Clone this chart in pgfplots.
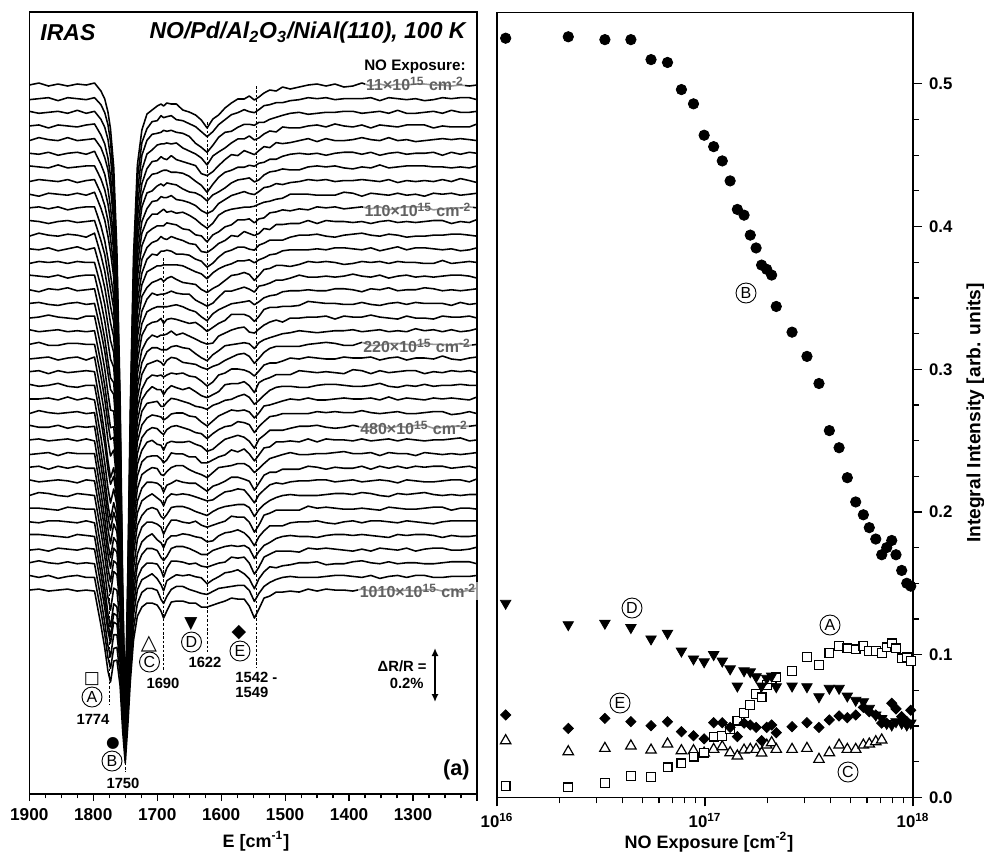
\documentclass[border=0pt]{standalone}
\usepackage{fontspec}
\setmainfont{Liberation Sans}
\newfontfamily\dejavu{DejaVu Sans}
\usepackage{pgfplots}
\usepackage{pgfplotstable}
\pgfplotsset{compat=1.18}
\usetikzlibrary{arrows.meta}

% stacked IR spectra: displacement (px, downward) of each trace from its own baseline
\pgfplotstableread{
E t1 t2 t3 t4 t5 t6 t7 t8 t9 t10 t11 t12 t13 t14 t15 t16 t17 t18 t19 t20 t21 t22 t23 t24 t25 t26 t27 t28 t29 t30 t31 t32 t33 t34 t35 t36 t37 t38
1900 0 1 -1 0 1 0 -1 1 0 0 -1 1 0 1 -1 0 0 1 -1 0 1 0 -1 0 1 -1 0 1 0 -1 1 0 0 -1 1 0 -1 0
1885 -2 0 1 -1 -2 1 0 -1 2 -1 0 -2 1 -1 0 2 -1 0 1 -2 0 -1 1 0 -2 1 -1 0 -1 1 -2 0 1 -1 0 -2 1 -1
1870 1 -1 0 2 0 -1 1 0 -1 1 2 0 -1 0 1 -1 1 -2 0 1 -1 2 0 -1 0 1 1 -1 2 0 -1 1 -1 0 2 0 -1 1
1855 -1 2 -1 -1 1 2 -2 1 0 -1 0 1 2 -1 -1 0 2 0 -1 1 2 -1 -2 1 1 -1 0 2 -1 -1 1 2 -1 1 -1 1 2 0
1840 1 -1 1 0 -2 0 1 -1 1 2 -1 -1 0 1 2 -2 0 1 1 -1 0 1 1 -2 0 2 -1 -1 1 0 2 -1 0 2 0 -1 0 -1
1825 -1 0 -2 1 1 -1 0 2 -1 0 1 0 -2 -1 0 1 -1 2 0 -1 -1 0 2 1 -1 0 1 0 -1 2 -1 0 1 -1 1 1 -1 1
1811 0 1 1 -1 0 1 -1 0 1 -1 0 2 1 0 -1 0 1 -1 1 0 2 -1 0 -1 1 1 -1 0 1 -1 0 1 -1 0 -1 0 1 0
1798 -2 -1 -1 -2 -1 -2 -1 -1 -2 -1 -1 -2 -1 0 -1 -1 0 -1 0 0 -1 0 0 1 0 0 1 0 1 0 1 1 1 1 0 1 1 1
1788 6 6 7 9 8 11 12 13 14 18 19 20 22 24 26 28 28 30 32 32 34 37 35 38 40 39 39 39 38 38 37 39 40 38 36 36 35 35
1782 14 14 15 18 18 21 23 25 26 33 33 36 39 42 45 49 48 52 55 55 57 63 59 64 66 64 64 65 63 63 62 64 66 63 59 60 58 58
1777 27 26 27 32 30 36 37 40 42 51 52 55 58 62 66 71 70 76 79 79 82 89 84 89 92 90 89 90 87 87 86 89 92 88 82 83 81 81
1773 44 43 45 50 48 54 54 58 58 67 68 71 74 78 83 88 86 93 97 95 98 106 99 104 107 104 104 104 101 101 99 102 105 101 94 94 92 92
1768 82 81 82 85 82 85 84 85 83 88 87 87 88 90 91 93 91 94 96 93 92 96 91 90 90 86 84 84 81 80 77 80 82 78 73 72 72 71
1763 166 167 167 168 163 164 159 158 151 152 149 146 141 141 138 138 134 135 134 128 124 121 114 106 103 97 92 89 85 83 80 82 85 80 75 72 71 70
1758 313 314 313 313 305 304 294 288 276 272 267 259 248 246 238 234 227 226 223 211 202 192 181 163 156 144 133 128 123 118 112 115 119 112 104 100 98 96
1754 498 499 497 496 484 482 465 455 435 428 419 406 388 384 372 363 353 349 345 326 309 294 276 245 235 216 200 192 182 175 166 170 174 165 154 146 144 141
1750 620 623 620 620 603 601 579 568 543 533 521 505 482 478 462 452 437 434 429 404 383 364 341 303 289 266 246 235 225 215 202 208 214 202 189 179 177 173
1746 488 490 488 488 474 473 455 447 427 420 411 397 379 376 363 355 344 340 336 317 301 286 269 239 227 208 193 185 177 169 160 164 167 159 149 141 139 136
1742 320 321 320 319 311 310 298 293 280 275 269 260 249 247 238 233 226 224 221 208 198 188 177 158 151 138 128 123 118 113 106 109 112 106 99 94 93 91
1737 170 170 170 169 165 164 158 155 149 146 143 139 133 132 127 125 121 120 118 112 106 101 96 86 82 76 71 68 65 62 59 60 61 58 55 52 52 50
1731 80 80 80 79 78 77 75 73 70 69 68 66 63 63 61 60 58 57 56 54 51 49 47 43 41 38 36 35 34 32 31 31 32 30 29 27 27 26
1724 45 44 43 44 44 42 40 41 39 38 38 38 36 34 35 34 32 33 32 30 31 28 26 26 25 24 22 21 21 20 21 19 20 19 19 17 16 17
1716 29 30 28 28 29 27 26 28 26 25 26 24 23 25 23 22 22 23 21 20 21 20 18 19 18 16 17 17 15 16 15 14 15 13 14 14 12 13
1708 25 23 22 24 22 21 24 21 20 21 21 19 20 20 17 19 19 18 17 18 17 15 17 16 15 14 16 14 15 13 13 14 12 13 14 11 12 13
1700 21 22 21 19 21 20 19 20 20 18 19 20 17 18 19 17 18 20 17 16 18 18 16 17 16 18 16 15 16 17 15 16 18 15 15 16 14 15
1694 19 17 20 18 17 18 17 16 17 18 15 16 17 16 18 17 15 18 19 18 17 18 21 18 20 19 19 21 19 20 22 19 21 22 21 22 23 21
1690 21 19 18 18 19 17 19 17 15 18 17 16 16 19 18 17 20 18 19 21 19 23 21 21 22 24 23 22 25 25 24 26 26 25 28 28 27 28
1685 18 18 19 17 20 17 16 17 18 15 18 15 16 16 17 17 16 17 19 16 17 18 17 19 17 17 20 18 18 17 20 19 18 21 19 18 20 21
1678 19 17 18 18 16 19 17 15 17 16 15 16 16 14 15 16 15 14 16 13 15 14 13 15 14 15 13 14 16 13 13 12 14 13 12 15 13 12
1670 19 21 20 17 20 19 18 19 19 17 17 19 16 17 17 15 16 18 15 14 16 16 14 14 13 16 14 12 13 14 12 12 14 11 12 12 10 11
1660 25 22 21 22 22 20 22 20 18 21 19 19 17 20 18 17 18 16 17 18 15 18 16 14 15 16 14 12 15 13 12 14 12 11 13 13 10 11
1650 27 25 24 25 24 23 25 22 21 22 22 20 20 21 18 20 20 19 18 19 18 16 18 17 17 15 17 16 16 14 14 15 13 13 15 12 13 13
1640 30 28 31 28 26 28 26 25 25 27 23 24 23 22 24 22 19 22 23 20 19 20 21 18 20 18 17 19 16 16 17 13 15 16 14 14 15 13
1631 35 33 35 32 34 32 29 30 30 28 30 26 25 27 27 27 23 25 27 23 23 24 22 23 21 20 23 21 20 18 19 17 16 19 17 15 17 17
1622 43 38 40 39 36 39 34 33 34 34 31 32 30 30 30 31 28 27 30 25 28 26 24 27 26 25 23 24 24 20 21 19 20 19 18 21 18 17
1613 34 33 33 30 32 31 28 30 29 27 27 28 24 26 27 24 24 26 24 22 24 23 20 22 21 23 20 19 19 19 17 17 19 15 16 17 15 15
1604 30 26 25 26 26 24 25 23 21 24 22 22 20 23 21 20 20 19 20 20 17 20 18 17 17 18 17 14 17 15 14 15 14 13 14 14 12 13
1594 23 21 20 22 20 19 21 19 17 19 19 17 17 18 15 17 17 16 15 16 15 13 15 14 14 13 15 13 14 11 12 13 11 11 13 10 11 11
1584 18 16 19 17 15 17 16 15 15 17 14 15 15 13 15 14 11 13 14 13 11 12 14 11 13 11 10 12 10 10 11 8 10 10 8 9 10 8
1574 14 14 15 13 16 14 13 13 14 12 15 12 12 12 13 13 11 11 13 10 11 12 11 12 9 9 12 10 10 8 10 9 8 11 9 7 9 9
1564 14 11 12 13 11 14 12 11 13 12 10 12 12 10 11 12 11 10 12 9 12 10 9 11 10 11 9 10 12 9 10 9 11 10 8 11 9 9
1556 11 13 12 10 13 12 11 13 13 11 12 14 11 12 13 11 13 15 13 12 14 14 12 13 12 15 14 13 14 15 13 14 16 13 14 16 14 16
1548 15 14 13 14 15 13 15 14 12 15 14 15 14 18 16 15 18 16 18 19 18 21 19 19 20 22 21 19 23 22 22 24 24 23 25 26 25 28
1541 12 11 10 12 11 10 13 11 10 11 12 10 11 13 10 12 13 12 12 14 13 11 15 14 14 13 15 15 16 14 15 17 15 16 18 16 17 19
1533 8 7 10 8 7 9 8 7 8 10 7 8 9 7 9 8 6 8 9 8 7 8 10 7 9 9 8 10 8 9 10 7 9 10 8 9 10 8
1524 5 6 7 5 8 6 5 6 7 5 8 5 6 6 7 6 4 5 7 4 5 6 5 6 4 4 7 5 5 4 6 5 4 7 5 4 6 6
1514 6 4 5 6 3 6 4 3 5 4 3 5 5 3 4 5 4 3 5 2 5 3 2 4 3 4 2 3 5 2 3 2 4 3 2 5 3 2
1504 2 4 3 1 4 3 2 4 4 2 3 5 2 3 4 2 3 5 3 2 3 3 1 2 1 4 2 1 2 3 1 2 4 1 2 3 1 2
1492 4 2 1 2 3 1 3 2 0 3 2 2 1 4 2 1 3 1 2 2 0 3 1 0 1 2 1 -1 2 1 0 2 1 0 2 2 0 1
1478 2 1 0 2 1 0 3 1 0 1 2 0 1 2 -1 1 2 1 0 2 1 -1 2 1 1 0 2 1 2 0 1 2 0 1 3 0 1 2
1464 0 -1 2 0 -1 1 0 -1 0 2 -1 0 1 -1 1 0 -2 0 1 0 -1 0 2 -1 1 0 -1 1 -1 0 1 -2 0 1 -1 0 1 -1
1450 -1 0 1 -1 2 0 -1 0 1 -1 2 -1 0 0 1 1 -1 0 2 -1 0 1 0 1 -1 -1 2 0 0 -1 1 0 -1 2 0 -1 1 1
1436 1 -1 0 1 -1 2 0 -1 1 0 -1 1 1 -1 0 1 0 -1 1 -2 1 0 -1 1 0 1 -1 0 2 -1 0 -1 1 0 -1 2 0 -1
1422 -1 1 0 -2 1 0 -1 1 1 -1 0 2 -1 0 1 -1 0 2 0 -1 1 1 -1 0 -1 2 0 -1 0 1 -1 0 2 -1 0 1 -1 0
1408 2 0 -1 0 1 -1 1 0 -2 1 0 0 -1 2 0 -1 1 -1 0 1 -1 2 0 -1 0 1 0 -2 1 0 -1 1 0 -1 1 1 -1 0
1394 1 0 -1 1 0 -1 2 0 -1 0 1 -1 0 1 -2 0 1 0 -1 1 0 -2 1 0 0 -1 1 0 1 -1 0 1 -1 0 2 -1 0 1
1380 -2 0 1 -1 -2 1 0 -1 2 -1 0 -2 1 -1 0 2 -1 0 1 -2 0 -1 1 0 -2 1 -1 0 -1 1 -2 0 1 -1 0 -2 1 -1
1366 1 -1 0 2 0 -1 1 0 -1 1 2 0 -1 0 1 -1 1 -2 0 1 -1 2 0 -1 0 1 1 -1 2 0 -1 1 -1 0 2 0 -1 1
1352 -1 2 -1 -1 1 2 -2 1 0 -1 0 1 2 -1 -1 0 2 0 -1 1 2 -1 -2 1 1 -1 0 2 -1 -1 1 2 -1 1 -1 1 2 0
1338 1 -1 1 0 -2 0 1 -1 1 2 -1 -1 0 1 2 -2 0 1 1 -1 0 1 1 -2 0 2 -1 -1 1 0 2 -1 0 2 0 -1 0 -1
1324 -1 0 -2 1 1 -1 0 2 -1 0 1 0 -2 -1 0 1 -1 2 0 -1 -1 0 2 1 -1 0 1 0 -1 2 -1 0 1 -1 1 1 -1 1
1310 0 1 1 -1 0 1 -1 0 1 -1 0 2 1 0 -1 0 1 -1 1 0 2 -1 0 -1 1 1 -1 0 1 -1 0 1 -1 0 -1 0 1 0
1296 -1 0 1 -1 2 0 -1 1 0 -1 1 1 -1 0 1 0 -1 1 -2 1 0 -1 1 0 1 -1 0 2 -1 0 -1 1 0 -1 2 0 -1 1
1282 -1 2 0 -1 1 0 -1 0 2 -1 0 1 -1 1 0 -2 0 1 0 -1 0 2 -1 1 0 -1 1 -1 0 1 -2 0 1 -1 0 1 -1 0
1268 0 1 -1 2 0 -1 0 1 -1 2 -1 0 0 1 1 -1 0 2 -1 0 1 0 1 -1 -1 2 0 0 -1 1 0 -1 2 0 -1 1 1 -1
1254 0 -1 1 0 -1 2 0 -1 0 1 -1 0 1 -2 0 1 0 -1 1 0 -2 1 0 0 -1 1 0 1 -1 0 1 -1 0 2 -1 0 1 1
1240 1 0 -2 1 0 -1 1 1 -1 0 2 -1 0 1 -1 0 2 0 -1 1 1 -1 0 -1 2 0 -1 0 1 -1 0 2 -1 0 1 -1 0 -1
1226 0 -1 0 1 -1 1 0 -2 1 0 0 -1 2 0 -1 1 -1 0 1 -1 2 0 -1 0 1 0 -2 1 0 -1 1 0 -1 1 1 -1 0 2
1212 1 -1 0 1 0 -1 1 0 0 -1 1 0 1 -1 0 0 1 -1 0 1 0 -1 0 1 -1 0 1 0 -1 1 0 0 -1 1 0 -1 0 0
1200 0 1 -1 -2 1 0 -1 2 -1 0 -2 1 -1 0 2 -1 0 1 -2 0 -1 1 0 -2 1 -1 0 -1 1 -2 0 1 -1 0 -2 1 -1 -2
}\spec

% integral intensities vs NO exposure
\pgfplotstableread{
x A B C D E
1.1e16 0.0079 0.532 0.0397 0.136 0.0577
2.2e16 0.0070 0.533 0.0320 0.121 0.0483
3.3e16 0.0102 0.531 0.0343 0.122 0.0553
4.4e16 0.0149 0.531 0.0360 0.119 0.0530
5.5e16 0.0144 0.517 0.0331 0.111 0.0502
6.6e16 0.0210 0.515 0.0374 0.115 0.0530
7.7e16 0.0238 0.496 0.0327 0.1025 0.0460
8.8e16 0.0285 0.486 0.0327 0.097 0.0432
9.9e16 0.0313 0.464 0.0310 0.095 0.0410
1.1e17 0.0425 0.456 0.0336 0.100 0.0523
1.21e17 0.0430 0.446 0.0355 0.0955 0.0523
1.32e17 0.0480 0.432 0.0313 0.090 0.0490
1.43e17 0.0537 0.412 0.0290 0.078 0.0425
1.54e17 0.0589 0.408 0.0331 0.0887 0.0520
1.65e17 0.0647 0.394 0.0336 0.088 0.0507
1.76e17 0.0724 0.385 0.0336 0.0845 0.0490
1.87e17 0.0700 0.373 0.0310 0.078 0.0397
1.98e17 0.0787 0.370 0.0366 0.0834 0.0490
2.09e17 0.0827 0.366 0.0383 0.085 0.0507
2.2e17 0.0841 0.344 0.0336 0.0775 0.0453
2.62e17 0.0885 0.326 0.0336 0.078 0.0495
3.09e17 0.0985 0.309 0.0343 0.0775 0.0523
3.53e17 0.0927 0.290 0.0266 0.0705 0.0490
3.96e17 0.1013 0.257 0.0313 0.0764 0.0542
4.41e17 0.1060 0.245 0.0366 0.0764 0.0570
4.83e17 0.1044 0.224 0.0336 0.071 0.0558
5.3e17 0.1037 0.207 0.0336 0.068 0.0577
5.77e17 0.1060 0.198 0.0366 0.067 0.0630
6.16e17 0.1025 0.189 0.0374 0.0624 0.0600
6.62e17 0.1025 0.181 0.0390 0.0577 0.0577
7.07e17 0.1013 0.170 0.0402 0.0553 0.0520
7.47e17 0.1051 0.175 nan 0.0518 0.0520
7.9e17 0.1079 0.180 nan 0.0507 0.0659
8.28e17 0.1044 0.170 nan 0.053 0.0620
8.82e17 0.0974 0.159 nan 0.052 0.0565
9.33e17 0.0980 0.150 nan 0.0507 0.0530
9.75e17 0.0955 0.148 nan 0.052 0.0610
}\intens

\tikzset{
  circ/.style={circle, draw, line width=0.45pt, inner sep=0pt, minimum size=10pt, font=\fontsize{8}{9}\selectfont},
  tl/.style={fill=white, fill opacity=0.6, text opacity=1, text=black!62, inner sep=0.8pt, font=\fontsize{8}{9}\selectfont\bfseries},
  pk/.style={font=\fontsize{7.4}{8}\selectfont\bfseries, inner sep=0pt},
  sym/.style={inner sep=0pt},
  dl/.style={line width=0.5pt, dash pattern=on 1.3pt off 0.9pt},
}

\begin{document}
\begin{tikzpicture}
\useasboundingbox (0,0) rectangle (492pt,-426pt);

% ---------- left panel: IRAS spectra ----------
\begin{axis}[
  at={(14.65pt,-397pt)}, anchor=south west,
  width=223.85pt, height=391pt, scale only axis,
  xmin=1200, xmax=1900, x dir=reverse,
  ymin=12, ymax=794, y dir=reverse,
  ytick=\empty,
  xtick={1200,1300,...,1900},
  xticklabels={,1300,1400,1500,1600,1700,1800,1900},
  minor x tick num=3,
  xtick pos=bottom, tick align=outside,
  major tick length=3.6pt, minor tick length=2.2pt,
  axis line style={line width=0.75pt},
  tick style={line width=0.6pt, black},
  ticklabel style={font=\fontsize{8.6}{10}\selectfont\bfseries},
]
\pgfplotsinvokeforeach{1,...,38}{
  \addplot[black, line width=0.78pt, line join=round, no markers]
    table[x=E, y expr={\thisrow{t#1}+85+13.65*(#1-1)}] {\spec};
}
\draw[dl] (axis cs:1774,585) -- (axis cs:1774,705);
\draw[dl] (axis cs:1750,745) -- (axis cs:1750,772);
\draw[dl] (axis cs:1690,258) -- (axis cs:1690,670);
\draw[dl] (axis cs:1622,122) -- (axis cs:1622,652);
\draw[dl] (axis cs:1545,86) -- (axis cs:1545,667);
\end{axis}

% ---------- right panel: integral intensities ----------
\begin{axis}[
  at={(248.5pt,-398.65pt)}, anchor=south west,
  width=208pt, height=392.4pt, scale only axis,
  xmode=log, xmin=1e16, xmax=1e18, ymin=0, ymax=0.55,
  xtick={1e16,1e17,1e18},
  xticklabels={10\textsuperscript{16},10\textsuperscript{17},10\textsuperscript{18}},
  minor xtick={2e16,3e16,4e16,5e16,6e16,7e16,8e16,9e16,2e17,3e17,4e17,5e17,6e17,7e17,8e17,9e17},
  ytick={0,0.1,0.2,0.3,0.4,0.5},
  yticklabels={0.0,0.1,0.2,0.3,0.4,0.5},
  minor y tick num=3,
  ytick pos=right, yticklabel pos=right, xtick pos=bottom,
  tick align=outside,
  major tick length=4.5pt, minor tick length=3pt,
  axis line style={line width=0.75pt},
  tick style={line width=0.6pt, black},
  ticklabel style={font=\fontsize{8.4}{10}\selectfont\bfseries},
]
\addplot[black, only marks, mark=triangle*, mark size=3pt,
  mark options={fill=white, draw=black, line width=0.6pt}] table[x=x, y=C] {\intens};
\addplot[black, only marks, mark=square*, mark size=2.2pt,
  mark options={fill=white, draw=black, line width=0.6pt}] table[x=x, y=A] {\intens};
\addplot[black, only marks, mark=square*, mark size=1.8pt,
  mark options={rotate=45, fill=black}] table[x=x, y=E] {\intens};
\addplot[black, only marks, mark=triangle*, mark size=3pt,
  mark options={rotate=180, fill=black}] table[x=x, y=D] {\intens};
\addplot[black, only marks, mark=*, mark size=2.6pt,
  mark options={fill=black}] table[x=x, y=B] {\intens};
\end{axis}

% ---------- annotations (coordinates in image pixels) ----------
\begin{scope}[x=0.5pt, y=-0.5pt]
  \node[anchor=west, inner sep=0pt, font=\fontsize{11.5}{13}\selectfont\bfseries\itshape] at (40,33) {IRAS};
  \node[anchor=east, inner sep=0pt, font=\fontsize{11.5}{13}\selectfont\bfseries\itshape] at (466,33)
    {NO/Pd/Al\textsubscript{2}O\textsubscript{3}/NiAl(110), 100 K};
  \node[anchor=east, inner sep=0pt, font=\fontsize{7.6}{9}\selectfont\bfseries] at (466,67) {NO Exposure:};
  \node[tl] at (415,84) {11×10\textsuperscript{15} cm\textsuperscript{-2}};
  \node[tl] at (418,210) {110×10\textsuperscript{15} cm\textsuperscript{-2}};
  \node[tl] at (417,346) {220×10\textsuperscript{15} cm\textsuperscript{-2}};
  \node[tl] at (414,428) {480×10\textsuperscript{15} cm\textsuperscript{-2}};
  \node[tl] at (418,591) {1010×10\textsuperscript{15} cm\textsuperscript{-2}};

  \node[sym, font=\dejavu\fontsize{8.5}{8.5}\selectfont] at (92,679) {□};
  \node[circ] at (92,697) {A};
  \node[pk] at (93,719) {1774};
  \node[sym, font=\dejavu\fontsize{7.8}{7.8}\selectfont] at (113,743) {●};
  \node[circ] at (112,761) {B};
  \node[pk] at (123,783) {1750};
  \node[sym, font=\dejavu\fontsize{10.5}{10.5}\selectfont] at (149,644) {△};
  \node[circ] at (149.5,662) {C};
  \node[pk] at (163,683) {1690};
  \node[sym, font=\dejavu\fontsize{8.5}{8.5}\selectfont] at (191,624) {▼};
  \node[circ] at (191.5,642) {D};
  \node[pk] at (205,662) {1622};
  \node[sym, font=\dejavu\fontsize{9.5}{9.5}\selectfont] at (239,633) {◆};
  \node[circ] at (240,651) {E};
  \node[pk, anchor=west] at (235,677) {1542 -};
  \node[pk, anchor=west] at (235,692) {1549};

  \node[pk, anchor=east] at (427,666) {ΔR/R =};
  \node[pk, anchor=east] at (424,683) {0.2\%};
  \draw[{Latex[length=4pt,width=3.6pt]}-{Latex[length=4pt,width=3.6pt]}, line width=0.8pt] (435,648) -- (435,702);
  \node[anchor=east, inner sep=0pt, font=\fontsize{10.8}{12}\selectfont\bfseries] at (470,770) {(a)};

  \node[font=\fontsize{9}{10}\selectfont\bfseries] at (256,841) {E [cm\textsuperscript{-1}]};
  \node[font=\fontsize{9}{10}\selectfont\bfseries] at (709,842) {NO Exposure [cm\textsuperscript{-2}]};
  \node[rotate=90, anchor=north, inner sep=0pt, font=\fontsize{9.6}{11}\selectfont\bfseries] at (966,413)
    {Integral Intensity [arb. units]};

  \node[circ, minimum size=10pt] at (746,293) {B};
  \node[circ, minimum size=10pt] at (632,608) {D};
  \node[circ, minimum size=10pt] at (830,625) {A};
  \node[circ, minimum size=10pt] at (620,703) {E};
  \node[circ, minimum size=10pt] at (848,772) {C};
\end{scope}
\end{tikzpicture}
\end{document}
